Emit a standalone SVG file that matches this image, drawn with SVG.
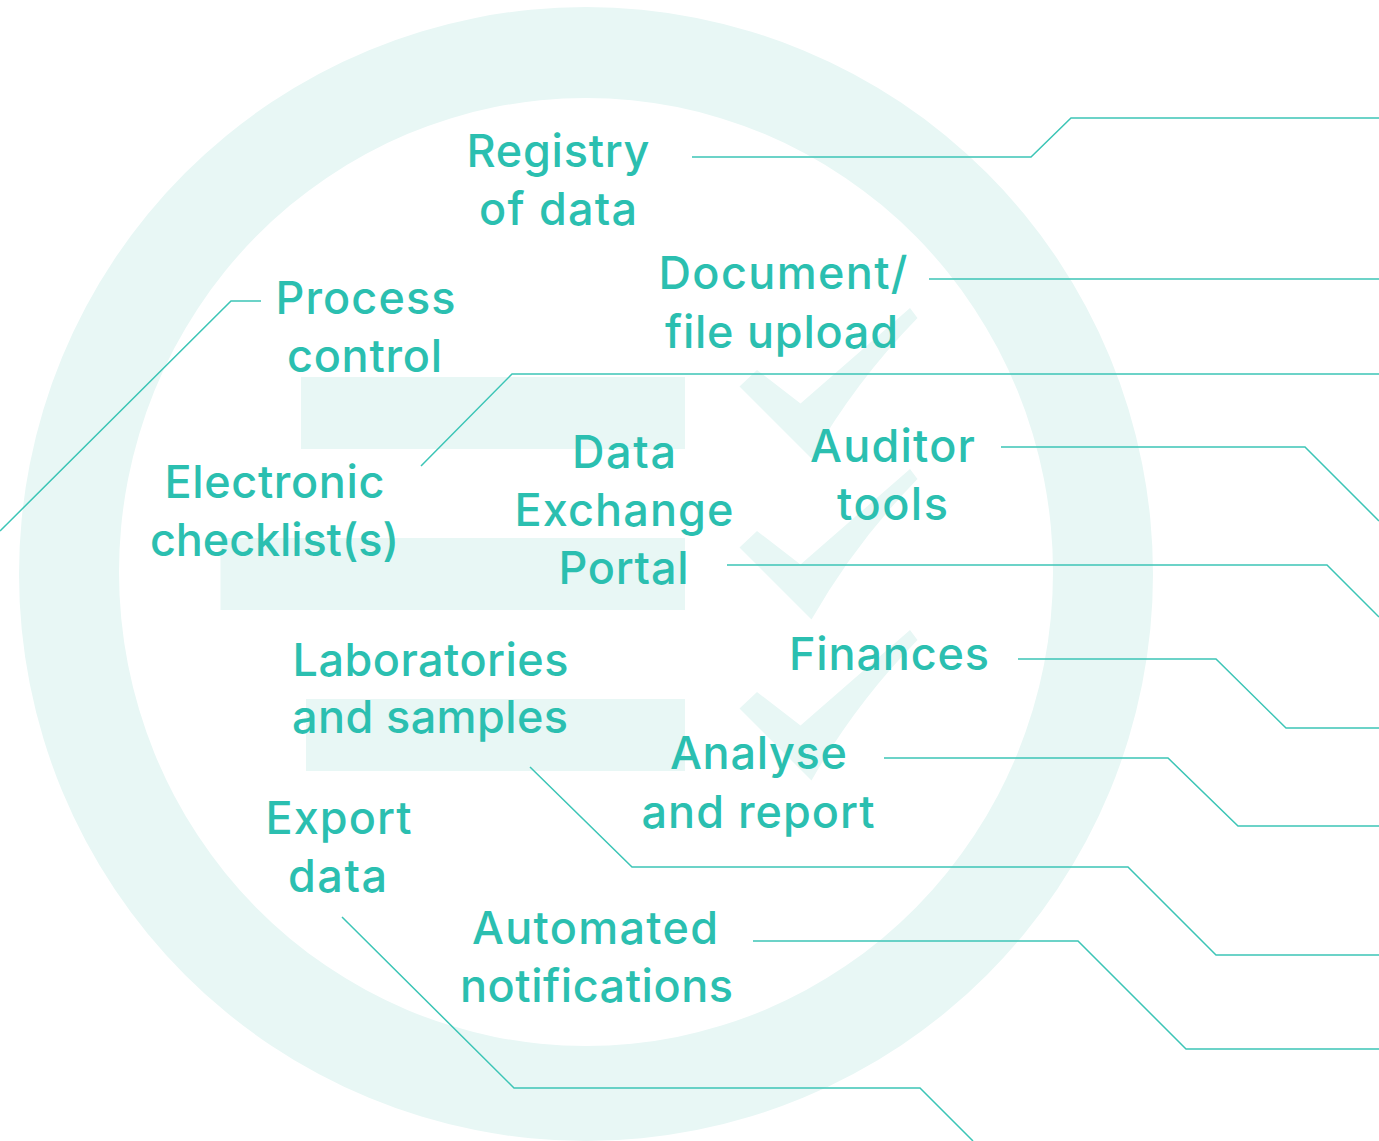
<svg xmlns="http://www.w3.org/2000/svg" width="1379" height="1141" viewBox="0 0 1379 1141">
<defs>
<style>
.bg{fill:#e8f7f5;}
.lbl{font-family:Inter,"Liberation Sans",Arial,sans-serif;font-size:45px;font-weight:500;fill:#2bbfb0;text-anchor:middle;}
.con{fill:none;stroke:#3cc5b6;stroke-width:1.5;}
</style>
<path id="check" d="M739.5,386.5 L757,370 L800.5,403.5 L910,308 L917.5,318 Q855.5,381.5 811.5,458.5 Z"/>
</defs>
<rect width="1379" height="1141" fill="#ffffff"/>
<g id="background">
<path class="bg" fill-rule="evenodd" d="M19,574 A567,567 0 1 0 1153,574 A567,567 0 1 0 19,574 Z M119,572 A467,474 0 1 0 1053,572 A467,474 0 1 0 119,572 Z"/>
<rect class="bg" x="301" y="377" width="384" height="72"/>
<rect class="bg" x="220.5" y="538" width="464.5" height="72"/>
<rect class="bg" x="306" y="699" width="379" height="72"/>
<use href="#check" class="bg"/>
<use href="#check" class="bg" transform="translate(0,161)"/>
<use href="#check" class="bg" transform="translate(0,322)"/>
</g>
<g id="connectors">
<path class="con" d="M692,157 H1031 L1071,118 H1379"/>
<path class="con" d="M929,279 H1379"/>
<path class="con" d="M421,466 L512,374 H1379"/>
<path class="con" d="M1001,447 H1305 L1379,521"/>
<path class="con" d="M727,565 H1327 L1379,617"/>
<path class="con" d="M1018,659 H1216 L1286,728 H1379"/>
<path class="con" d="M884,758 H1168 L1238,826 H1379"/>
<path class="con" d="M530,767 L632,867 H1128 L1216,955 H1379"/>
<path class="con" d="M753,941 H1078 L1186,1049 H1379"/>
<path class="con" d="M342,917 L514,1088 H920 L973,1141"/>
<path class="con" d="M261,301 H231 L0,531"/>
</g>
<g id="registry"><text class="lbl" x="558" y="167" textLength="183" lengthAdjust="spacing">Registry</text><text class="lbl" x="558" y="225" textLength="158" lengthAdjust="spacing">of data</text></g>
<g id="process-control"><text class="lbl" x="365.5" y="313.5" textLength="180" lengthAdjust="spacing">Process</text><text class="lbl" x="364.5" y="371.5" textLength="155" lengthAdjust="spacing">control</text></g>
<g id="document-upload"><text class="lbl" x="783" y="289" textLength="249" lengthAdjust="spacing">Document/</text><text class="lbl" x="781.5" y="347.5" textLength="233" lengthAdjust="spacing">file upload</text></g>
<g id="electronic-checklist"><text class="lbl" x="274.5" y="498" textLength="220" lengthAdjust="spacing">Electronic</text><text class="lbl" x="274.5" y="555.5" textLength="249" lengthAdjust="spacing">checklist(s)</text></g>
<g id="data-exchange-portal"><text class="lbl" x="624" y="467.5" textLength="104" lengthAdjust="spacing">Data</text><text class="lbl" x="624" y="525.5" textLength="219" lengthAdjust="spacing">Exchange</text><text class="lbl" x="623.5" y="583.5" textLength="130" lengthAdjust="spacing">Portal</text></g>
<g id="auditor-tools"><text class="lbl" x="892.5" y="462" textLength="165" lengthAdjust="spacing">Auditor</text><text class="lbl" x="892.5" y="520" textLength="111" lengthAdjust="spacing">tools</text></g>
<g id="finances"><text class="lbl" x="889" y="670" textLength="200" lengthAdjust="spacing">Finances</text></g>
<g id="laboratories-samples"><text class="lbl" x="430.5" y="676" textLength="276" lengthAdjust="spacing">Laboratories</text><text class="lbl" x="430" y="733" textLength="276" lengthAdjust="spacing">and samples</text></g>
<g id="analyse-report"><text class="lbl" x="758.5" y="769" textLength="177" lengthAdjust="spacing">Analyse</text><text class="lbl" x="758" y="827.5" textLength="233" lengthAdjust="spacing">and report</text></g>
<g id="export-data"><text class="lbl" x="338.5" y="833.5" textLength="146" lengthAdjust="spacing">Export</text><text class="lbl" x="337.5" y="891.5" textLength="99" lengthAdjust="spacing">data</text></g>
<g id="automated-notifications"><text class="lbl" x="595" y="944" textLength="246" lengthAdjust="spacing">Automated</text><text class="lbl" x="596.5" y="1001.5" textLength="273" lengthAdjust="spacing">notifications</text></g>
</svg>
